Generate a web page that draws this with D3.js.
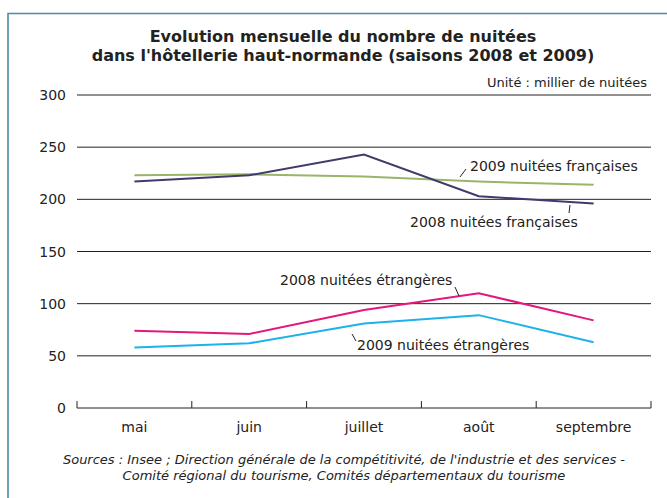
<!DOCTYPE html>
<html>
<head>
<meta charset="utf-8">
<script src="https://cdn.jsdelivr.net/npm/d3@7"></script>
<style>
  body { margin: 0; background: #fff; }
  svg text { font-family: "DejaVu Sans", sans-serif; fill: #222; }
</style>
</head>
<body>
<div id="chart"></div>
<script>
'use strict';

// data (milliers de nuitées)
const months = ['mai', 'juin', 'juillet', 'août', 'septembre'];
const fr2009 = [223, 224, 222, 217, 214];
const fr2008 = [217, 223, 243, 203, 196];
const etr2008 = [74, 71, 94, 110, 84];
const etr2009 = [58, 62, 81, 89, 63];
const yTicks = [0, 50, 100, 150, 200, 250, 300];

const series = [
  { name: '2009 nuitées françaises', values: fr2009, color: '#98b56a' },
  { name: '2008 nuitées françaises', values: fr2008, color: '#3f3b6c' },
  { name: '2008 nuitées étrangères', values: etr2008, color: '#e3177c' },
  { name: '2009 nuitées étrangères', values: etr2009, color: '#1db2ea' }
];

const W = 667, H = 498;
const plotLeft = 77, plotRight = 651, plotTop = 95, plotBottom = 408;

const svg = d3.select('#chart').append('svg')
  .attr('width', W)
  .attr('height', H);

// frame
svg.append('path')
  .attr('d', `M8,${H + 5} L8,13.5 L${W + 5},13.5`)
  .attr('fill', 'none')
  .attr('stroke', '#4f8aa3')
  .attr('stroke-width', 1.6);

// title
svg.append('text')
  .attr('x', 343).attr('y', 42)
  .attr('text-anchor', 'middle')
  .style('font-size', '16px').style('font-weight', 'bold')
  .text('Evolution mensuelle du nombre de nuitées');
svg.append('text')
  .attr('x', 343).attr('y', 61)
  .attr('text-anchor', 'middle')
  .style('font-size', '16px').style('font-weight', 'bold')
  .text("dans l'hôtellerie haut-normande (saisons 2008 et 2009)");

svg.append('text')
  .attr('x', 647).attr('y', 87)
  .attr('text-anchor', 'end')
  .style('font-size', '13px')
  .text('Unité : millier de nuitées');

// scales
const x = d3.scaleBand().domain(months).range([plotLeft, plotRight]);
const y = d3.scaleLinear().domain([0, 300]).range([plotBottom, plotTop]);

// grid lines
svg.append('g')
  .selectAll('line')
  .data(yTicks.filter(d => d > 0))
  .join('line')
  .attr('x1', plotLeft).attr('x2', plotRight)
  .attr('y1', d => y(d)).attr('y2', d => y(d))
  .attr('stroke', '#222').attr('stroke-width', 1);

// y labels
svg.append('g')
  .selectAll('text')
  .data(yTicks)
  .join('text')
  .attr('x', 66)
  .attr('y', d => y(d) + 5)
  .attr('text-anchor', 'end')
  .style('font-size', '14px')
  .text(d => d);

// x axis with upward ticks at band edges
const xAxis = svg.append('g');
xAxis.append('line')
  .attr('x1', plotLeft).attr('x2', plotRight)
  .attr('y1', plotBottom).attr('y2', plotBottom)
  .attr('stroke', '#222');
const edges = months.map(m => x(m)).concat([plotRight]);
xAxis.selectAll('line.tick')
  .data(edges)
  .join('line')
  .attr('class', 'tick')
  .attr('x1', d => d).attr('x2', d => d)
  .attr('y1', plotBottom).attr('y2', plotBottom - 7)
  .attr('stroke', '#222');
xAxis.selectAll('text')
  .data(months)
  .join('text')
  .attr('x', d => x(d) + x.bandwidth() / 2)
  .attr('y', 432)
  .attr('text-anchor', 'middle')
  .style('font-size', '14px')
  .text(d => d);

// lines
const line = d3.line()
  .x((d, i) => x(months[i]) + x.bandwidth() / 2)
  .y(d => y(d));

svg.append('g')
  .selectAll('path')
  .data(series)
  .join('path')
  .attr('d', d => line(d.values))
  .attr('fill', 'none')
  .attr('stroke', d => d.color)
  .attr('stroke-width', 2);

// series labels with small leader lines
const labels = [
  { text: series[0].name, x: 470, y: 171, lx1: 460, ly1: 177, lx2: 466, ly2: 169 },
  { text: series[1].name, x: 410, y: 227, lx1: 570, ly1: 205, lx2: 569, ly2: 213 },
  { text: series[2].name, x: 280, y: 285, lx1: 455, ly1: 287, lx2: 459, ly2: 296 },
  { text: series[3].name, x: 357, y: 350, lx1: 352, ly1: 334, lx2: 356, ly2: 341 }
];
const lab = svg.append('g');
lab.selectAll('line')
  .data(labels)
  .join('line')
  .attr('x1', d => d.lx1).attr('y1', d => d.ly1)
  .attr('x2', d => d.lx2).attr('y2', d => d.ly2)
  .attr('stroke', '#222').attr('stroke-width', 1);
lab.selectAll('text')
  .data(labels)
  .join('text')
  .attr('x', d => d.x).attr('y', d => d.y)
  .style('font-size', '14px')
  .text(d => d.text);

// sources
svg.append('text')
  .attr('x', 344).attr('y', 464)
  .attr('text-anchor', 'middle')
  .style('font-size', '13px').style('font-style', 'italic')
  .text("Sources : Insee ; Direction générale de la compétitivité, de l'industrie et des services -");
svg.append('text')
  .attr('x', 344).attr('y', 480)
  .attr('text-anchor', 'middle')
  .style('font-size', '13px').style('font-style', 'italic')
  .text('Comité régional du tourisme, Comités départementaux du tourisme');
</script>
</body>
</html>
